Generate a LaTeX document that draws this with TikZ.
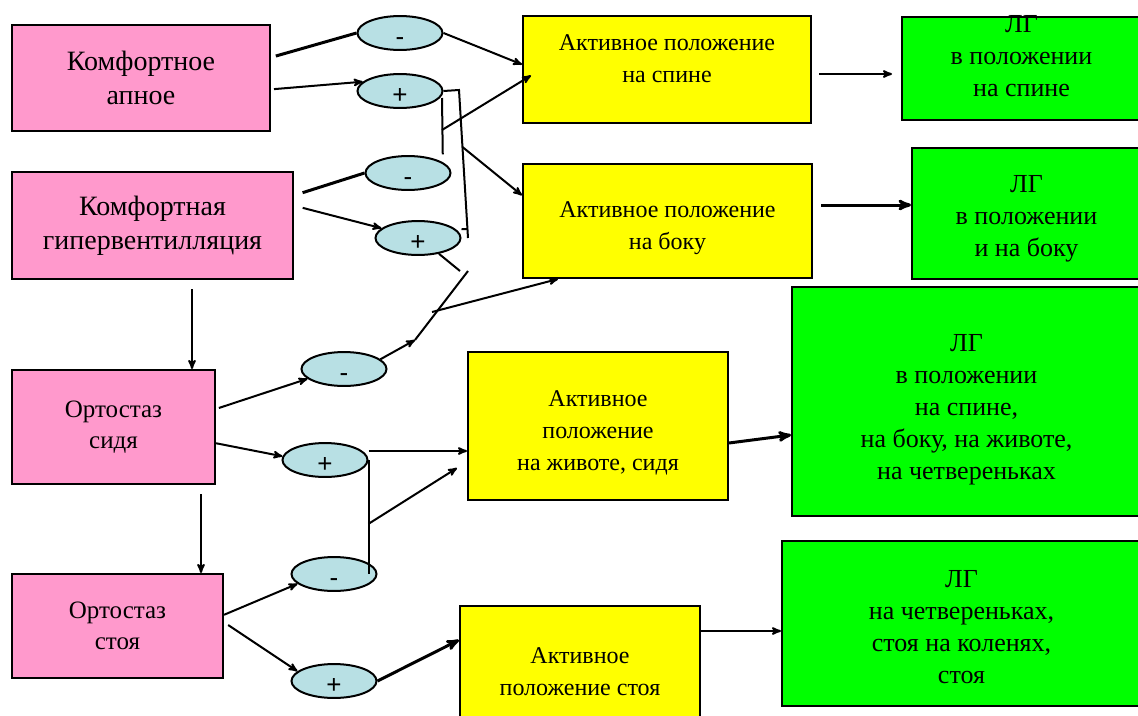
\documentclass[tikz,border=0pt]{standalone}
\usepackage{fontspec}
\setmainfont{Liberation Serif}
\setsansfont{Liberation Sans}
\usetikzlibrary{arrows,calc,shapes.geometric}

\definecolor{pinkfill}{RGB}{255,153,204}
\definecolor{yellowfill}{RGB}{255,255,0}
\definecolor{greenfill}{RGB}{0,255,0}
\definecolor{bluefill}{RGB}{184,224,228}

\begin{document}
\begin{tikzpicture}[>=stealth', x=1pt, y=-1pt, line width=2pt,
    align=center,
    pinkbox/.style={rectangle, draw, line width=2pt, fill=pinkfill, inner sep=0pt,
      font=\fontsize{28}{34}\selectfont},
    smalltext/.style={font=\fontsize{25}{31}\selectfont},
    yellowbox/.style={rectangle, draw, line width=2pt, fill=yellowfill, inner sep=0pt},
    yellowtext/.style={inner sep=0pt, font=\fontsize{24}{32}\selectfont},
    greenbox/.style={rectangle, draw, line width=2pt, fill=greenfill, inner sep=0pt},
    greentext/.style={inner sep=0pt, font=\fontsize{26}{32}\selectfont},
    sign/.style={ellipse, draw, line width=2pt, fill=bluefill, inner sep=0pt,
      minimum width=85, minimum height=33, text height=24pt, text depth=0pt,
      font=\sffamily\fontsize{26}{26}\selectfont},
    fat/.style={line width=3pt}]
\clip (0,0) rectangle (1138,715);

\node[pinkbox, minimum width=258, minimum height=106] (ap) at (141,78) {Комфортное\\апное};
\node[pinkbox, minimum width=281, minimum height=107] (hv) at (152.5,225.5) {Комфортная\\гипервентилляция};
\node[pinkbox, smalltext, minimum width=203, minimum height=114] (sit) at (113.5,427) {Ортостаз\\сидя};
\node[pinkbox, smalltext, minimum width=211, minimum height=104] (stand) at (117.5,626) {Ортостаз\\стоя};

\node[yellowbox, minimum width=288, minimum height=107] (act1) at (667,69.5) {};
\node[yellowtext] (act1txt) at ([yshift=11pt]act1.center) {Активное положение\\на спине};
\node[yellowbox, minimum width=289, minimum height=114] (act2) at (667.5,221) {};
\node[yellowtext] (act2txt) at ([yshift=-7pt]act2.center) {Активное положение\\на боку};
\node[yellowbox, minimum width=260, minimum height=148] (act3) at (598,426) {};
\node[yellowtext] (act3txt) at ([yshift=-7pt]act3.center) {Активное\\положение\\на животе, сидя};
\node[yellowbox, minimum width=240, minimum height=124] (act4) at (580,668) {};
\node[yellowtext] (act4txt) at ([yshift=-4pt]act4.center) {Активное\\положение стоя};

\node[greenbox, minimum width=239, minimum height=103] (lg1) at (1021.5,68.5) {};
\node[greentext] (lg1txt) at ([yshift=12pt]lg1.center) {ЛГ\\в положении\\на спине};
\node[greenbox, minimum width=229, minimum height=131] (lg2) at (1026.5,213.5) {};
\node[greentext] (lg2txt) at ([yshift=-5pt]lg2.center) {ЛГ\\в положении\\и на боку};
\node[greenbox, minimum width=349, minimum height=229] (lg3) at (966.5,401.5) {};
\node[greentext] (lg3txt) at ([yshift=-8pt]lg3.center) {ЛГ\\в положении\\на спине,\\на боку, на животе,\\на четвереньках};
\node[greenbox, minimum width=359, minimum height=165] (lg4) at (961.5,623.5) {};
\node[greentext] (lg4txt) at ([yshift=-4pt]lg4.center) {ЛГ\\на четвереньках,\\стоя на коленях,\\стоя};

\node[sign] (m1) at (400,33) {-};
\node[sign] (p1) at (400,91) {+};
\node[sign] (m2) at (408,173) {-};
\node[sign] (p2) at (418,238) {+};
\node[sign] (m3) at (344,369) {-};
\node[sign] (p3) at (325,460) {+};
\node[sign] (m4) at (334,574) {-};
\node[sign] (p4) at (334,681) {+};

\coordinate (j1) at (459,90);
\coordinate (j2) at (468,238);
\coordinate (k1) at (442,98);
\coordinate (k2) at (442,130);
\coordinate (q1) at (460,271);
\coordinate (q2) at (468,271);
\coordinate (q3) at (415,340);
\coordinate (q4) at (432,312);
\coordinate (v1) at (192,0);
\coordinate (v2) at (201,0);
\coordinate (s1) at ([yshift=9pt]p3.east);
\coordinate (r1) at ([yshift=-4.5pt]act1.east);
\coordinate (r2) at ([yshift=16pt]act2.east);
\coordinate (r4) at ([yshift=37pt]act4.east);

\draw[fat, shorten <=5pt] (ap.9) -- (m1.west);
\draw[->, shorten <=3pt] (ap.-5) -- (p1.166);
\draw[->] (m1.east) -- (act1.178);
\draw (p1.east) -- (j1) -- (j2);
\draw[->] ($(j1)!0.385!(j2)$) -- (act2.170);
\draw ([shift={(4,-6)}]m2.north east) -- (k1);
\draw[->] (k2) -- ([shift={(9,6)}]act1.west);

\draw[fat, shorten <=9pt] (hv.12) -- (m2.west);
\draw[->, shorten <=9pt] (hv.8) -- (p2.165);
\draw ([yshift=9pt]p2.east) -- ($(j1)!0.94!(j2)$);
\draw (p2.-37) -- (q1);
\draw (q2) -- (q3);
\draw[->] (m3.15) -- (q3);
\draw[->] (q4) -- ([xshift=36pt]act2.south west);

\draw[->, shorten <=9pt] (hv.south -| v1) -- (sit.north -| v1);
\draw[->, shorten <=9pt] (sit.south -| v2) -- (stand.north -| v2);
\draw[->, shorten <=3pt] (sit.10) -- (m3.195);
\draw[->] (sit.-9) -- (p3.175);
\draw[->] (s1) -- (s1 -| act3.west);
\draw (p3.east) -- (p3.east |- m4.center);
\draw[->] ($(p3.east)!0.56!(p3.east |- m4.center)$) -- ([shift={(-10,42)}]act3.west);
\draw[->] (stand.6) -- (m4.195);
\draw[->, shorten <=5pt] (stand.2) -- (p4.165);
\draw[->, fat] (p4.east) -- ([yshift=28pt]act4.west);

\draw[->, shorten <=7pt, shorten >=9pt] (r1) -- (r1 -| lg1.west);
\draw[->, fat, shorten <=8pt] (r2) -- (r2 -| lg2.west);
\draw[->, fat] ([yshift=-17pt]act3.east) -- ([yshift=-33.5pt]lg3.west);
\draw[->] (r4) -- (r4 -| lg4.west);
\end{tikzpicture}
\end{document}
